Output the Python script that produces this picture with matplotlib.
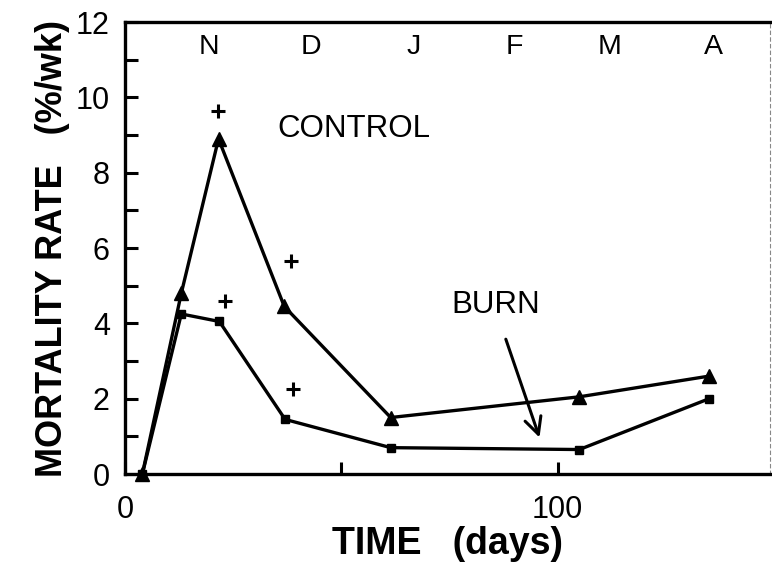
import matplotlib.pyplot as plt

plt.rcParams['font.family'] = ['Liberation Sans', 'DejaVu Sans']

# data (days, %/wk)
control_days = [4, 13, 21.6, 36.8, 61.4, 105, 135]
control_rate = [0, 4.8, 8.9, 4.45, 1.5, 2.05, 2.6]
burn_days = [4, 13, 21.8, 37, 61.4, 105, 135]
burn_rate = [0, 4.25, 4.05, 1.45, 0.7, 0.65, 2.0]

# significance marks (+)
plus_days = [21.4, 38.3, 23.2, 38.9]
plus_rate = [9.65, 5.65, 4.6, 2.25]

months = ['N', 'D', 'J', 'F', 'M', 'A']
month_days = [19.5, 43, 66.7, 90, 112, 136]

fig = plt.figure(figsize=(7.72, 5.67), dpi=100)
ax = fig.add_axes([0.162, 0.164, 0.835, 0.797])

ax.plot(control_days, control_rate, color='black', lw=2.4, marker='^',
        markersize=10, clip_on=False, zorder=3)
ax.plot(burn_days, burn_rate, color='black', lw=2.4, marker='s',
        markersize=6, clip_on=False, zorder=3)
ax.plot(plus_days, plus_rate, linestyle='none', marker='+', color='black',
        markersize=10, markeredgewidth=2.2)

for m, d in zip(months, month_days):
    ax.text(d, 11.35, m, ha='center', va='center', fontsize=20.5)

ax.text(35.2, 9.15, 'CONTROL', ha='left', va='center', fontsize=22.5)
ax.text(75.4, 4.5, 'BURN', ha='left', va='center', fontsize=22.5)
ax.annotate('', xy=(96, 0.9), xytext=(87.8, 3.65),
            arrowprops=dict(arrowstyle='->', color='black', lw=2.2,
                            mutation_scale=30))

ax.set_xlim(0, 149)
ax.set_ylim(0, 12)
ax.set_xticks([0, 50, 100], ['0', '', '100'])
ax.set_yticks(range(0, 13, 2))
ax.set_yticks(range(1, 13, 2), minor=True)
ax.tick_params(axis='both', direction='in', length=9, width=2.2,
               labelsize=22, pad=11)
ax.tick_params(axis='y', which='minor', direction='in', length=9, width=2.2)
ax.tick_params(axis='x', pad=15)

for side in ['left', 'bottom', 'top']:
    ax.spines[side].set_linewidth(2.4)
ax.spines['right'].set_linewidth(0.8)
ax.spines['right'].set_linestyle((0, (3, 3)))
ax.spines['right'].set_color('#888888')

ax.set_xlabel('TIME   (days)', fontsize=27, fontweight='bold', labelpad=1)
ax.set_ylabel('MORTALITY RATE   (%/wk)', fontsize=26, fontweight='bold',
              labelpad=4)

fig.savefig('out.png', dpi=100)
